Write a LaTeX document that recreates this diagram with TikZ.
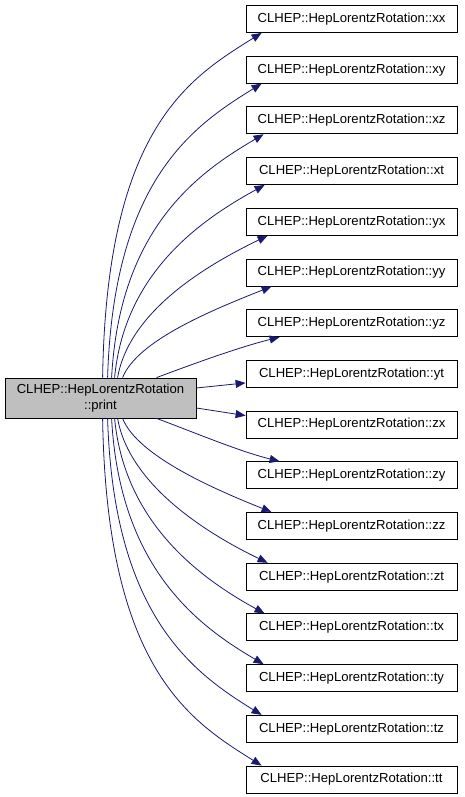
\documentclass[tikz,border=0pt]{standalone}
\usepackage{fontspec}
\setmainfont{Liberation Sans}
\usetikzlibrary{arrows.meta}
\definecolor{edgeblue}{HTML}{191970}
\definecolor{srcgray}{HTML}{BFBFBF}
\tikzset{
  fn/.style={draw=black, line width=0.8pt, fill=white, minimum width=211pt, minimum height=27pt, inner sep=0pt, font=\fontsize{13.1}{16}\selectfont},
  src/.style={draw=black, line width=0.8pt, fill=srcgray, minimum width=191pt, minimum height=40pt, inner sep=0pt, align=center, font=\fontsize{13.1}{16}\selectfont},
  call/.style={draw=edgeblue, line width=0.8pt, -{Triangle[length=10pt,width=8pt]}, edgeblue}
}
\begin{document}
\begin{tikzpicture}[x=1pt,y=1pt]
\useasboundingbox (0,0) rectangle (464,797);
\node[src] (L) at (100.5,399) {CLHEP::HepLorentzRotation\\::print};
\node[fn] (xx) at (351.5,778) {CLHEP::HepLorentzRotation::xx};
\node[fn] (xy) at (351.5,727.3) {CLHEP::HepLorentzRotation::xy};
\node[fn] (xz) at (351.5,676.6) {CLHEP::HepLorentzRotation::xz};
\node[fn] (xt) at (351.5,625.9) {CLHEP::HepLorentzRotation::xt};
\node[fn] (yx) at (351.5,575.2) {CLHEP::HepLorentzRotation::yx};
\node[fn] (yy) at (351.5,524.5) {CLHEP::HepLorentzRotation::yy};
\node[fn] (yz) at (351.5,473.8) {CLHEP::HepLorentzRotation::yz};
\node[fn] (yt) at (351.5,423.1) {CLHEP::HepLorentzRotation::yt};
\node[fn] (zx) at (351.5,372.4) {CLHEP::HepLorentzRotation::zx};
\node[fn] (zy) at (351.5,321.7) {CLHEP::HepLorentzRotation::zy};
\node[fn] (zz) at (351.5,271) {CLHEP::HepLorentzRotation::zz};
\node[fn] (zt) at (351.5,220.3) {CLHEP::HepLorentzRotation::zt};
\node[fn] (tx) at (351.5,169.6) {CLHEP::HepLorentzRotation::tx};
\node[fn] (ty) at (351.5,118.9) {CLHEP::HepLorentzRotation::ty};
\node[fn] (tz) at (351.5,68.2) {CLHEP::HepLorentzRotation::tz};
\node[fn] (tt) at (351.5,17.5) {CLHEP::HepLorentzRotation::tt};
% upper calls
\draw[call] ([xshift=98pt]L.north west) .. controls +(4,250) and +(-72,-45) .. ([xshift=16pt]xx.south west);
\draw[call] ([xshift=103pt]L.north west) .. controls +(6,198) and +(-68,-42) .. ([xshift=16pt]xy.south west);
\draw[call] ([xshift=107pt]L.north west) .. controls +(8,150) and +(-65,-38) .. ([xshift=18pt]xz.south west);
\draw[call] ([xshift=110pt]L.north west) .. controls +(10,106) and +(-62,-34) .. ([xshift=19pt]xt.south west);
\draw[call] ([xshift=113pt]L.north west) .. controls +(12,68) and +(-58,-28) .. ([xshift=22pt]yx.south west);
\draw[call] ([xshift=118pt]L.north west) .. controls +(15,38) and +(-55,-22) .. ([xshift=26pt]yy.south west);
\draw[call] ([xshift=152pt]L.north west) .. controls +(40,15) and +(-40,-10) .. ([xshift=34pt]yz.south west);
\draw[call] ([yshift=10pt]L.east) -- ([yshift=-9pt]yt.west);
% lower calls
\draw[call] ([yshift=-10pt]L.east) -- ([yshift=9pt]zx.west);
\draw[call] ([xshift=152pt]L.south west) .. controls +(40,-15) and +(-40,10) .. ([xshift=34pt]zy.north west);
\draw[call] ([xshift=118pt]L.south west) .. controls +(15,-38) and +(-55,22) .. ([xshift=26pt]zz.north west);
\draw[call] ([xshift=113pt]L.south west) .. controls +(12,-68) and +(-58,28) .. ([xshift=22pt]zt.north west);
\draw[call] ([xshift=110pt]L.south west) .. controls +(10,-106) and +(-62,34) .. ([xshift=19pt]tx.north west);
\draw[call] ([xshift=107pt]L.south west) .. controls +(8,-150) and +(-65,38) .. ([xshift=18pt]ty.north west);
\draw[call] ([xshift=103pt]L.south west) .. controls +(6,-198) and +(-68,42) .. ([xshift=16pt]tz.north west);
\draw[call] ([xshift=98pt]L.south west) .. controls +(4,-250) and +(-72,45) .. ([xshift=16pt]tt.north west);
\end{tikzpicture}
\end{document}
